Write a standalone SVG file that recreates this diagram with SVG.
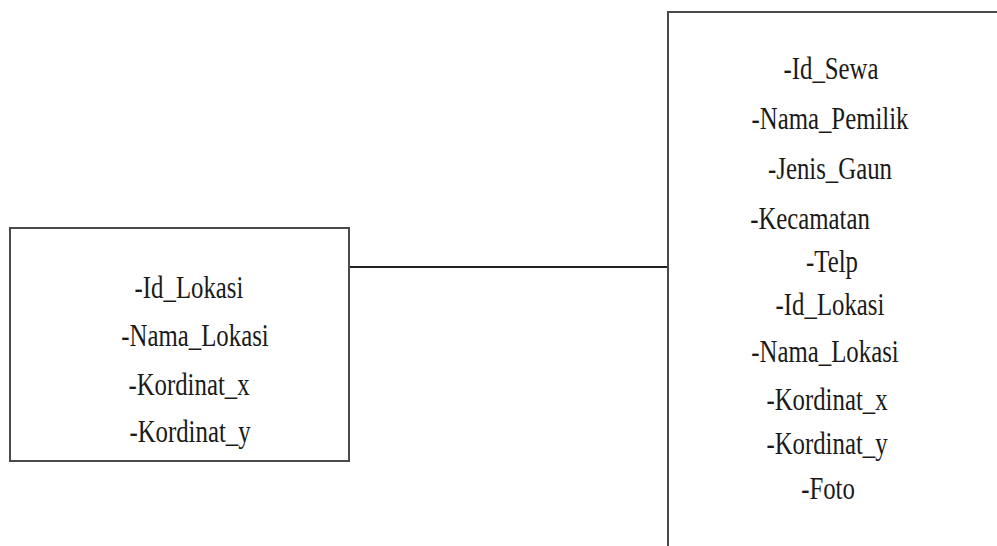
<svg xmlns="http://www.w3.org/2000/svg" width="997" height="546" viewBox="0 0 997 546">
  <style>
    .box { fill: #ffffff; stroke: #4a4a4a; stroke-width: 2; }
    .link { stroke: #222222; stroke-width: 2; fill: none; }
    .attr { font-family: "Liberation Serif", "Times New Roman", serif; font-size: 31px; fill: #1a1a1a; text-anchor: middle; }
  </style>
  <rect width="997" height="546" fill="#ffffff"/>

  <g id="connectors">
    <line class="link" x1="349" y1="267" x2="668" y2="267"/>
  </g>

  <!-- attribute labels use a narrow serif: full-height glyphs squeezed to 80% width -->
  <g id="lokasi">
    <rect class="box" x="10" y="228" width="339" height="233"/>
    <text class="attr" transform="translate(189 298) scale(0.8 1)">-Id_Lokasi</text>
    <text class="attr" transform="translate(195 346) scale(0.8 1)">-Nama_Lokasi</text>
    <text class="attr" transform="translate(189 395) scale(0.8 1)">-Kordinat_x</text>
    <text class="attr" transform="translate(190 442) scale(0.8 1)">-Kordinat_y</text>
  </g>

  <g id="sewa">
    <rect class="box" x="668" y="12" width="400" height="600"/>
    <text class="attr" transform="translate(831 79) scale(0.8 1)">-Id_Sewa</text>
    <text class="attr" transform="translate(830 129) scale(0.8 1)">-Nama_Pemilik</text>
    <text class="attr" transform="translate(830 179) scale(0.8 1)">-Jenis_Gaun</text>
    <text class="attr" transform="translate(810 229) scale(0.8 1)">-Kecamatan</text>
    <text class="attr" transform="translate(832 272) scale(0.8 1)">-Telp</text>
    <text class="attr" transform="translate(830 315) scale(0.8 1)">-Id_Lokasi</text>
    <text class="attr" transform="translate(825 362) scale(0.8 1)">-Nama_Lokasi</text>
    <text class="attr" transform="translate(827 410) scale(0.8 1)">-Kordinat_x</text>
    <text class="attr" transform="translate(827 454) scale(0.8 1)">-Kordinat_y</text>
    <text class="attr" transform="translate(828 499) scale(0.8 1)">-Foto</text>
  </g>
</svg>
